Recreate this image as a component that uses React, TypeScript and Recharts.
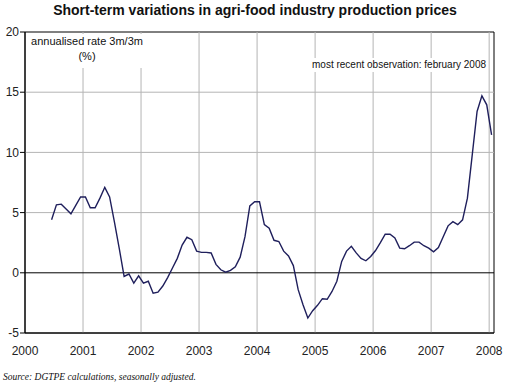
import React from "react";
import {
  LineChart,
  Line,
  XAxis,
  YAxis,
  ReferenceLine,
  ReferenceArea,
} from "recharts";

// monthly observations, first one is July 2000 (months counted from Jan 2000)
const startMonth = 6;
const rate = [
  4.4, 5.65, 5.7, 5.3, 4.9, 5.6, 6.3, 6.3, 5.4, 5.4, 6.2, 7.1, 6.3, 4.2, 2.0,
  -0.3, -0.1, -0.85, -0.25, -0.85, -0.7, -1.7, -1.6, -1.1, -0.4, 0.4, 1.2, 2.3,
  2.95, 2.75, 1.8, 1.7, 1.7, 1.65, 0.7, 0.25, 0.05, 0.2, 0.5, 1.3, 3.0, 5.55,
  5.9, 5.9, 4.0, 3.7, 2.7, 2.6, 1.8, 1.4, 0.6, -1.4, -2.65, -3.76, -3.15, -2.7,
  -2.15, -2.2, -1.55, -0.7, 0.95, 1.8, 2.2, 1.65, 1.2, 1.0, 1.35, 1.85, 2.5,
  3.2, 3.2, 2.9, 2.05, 2.0, 2.25, 2.55, 2.55, 2.25, 2.05, 1.75, 2.1, 3.0, 3.9,
  4.25, 4.0, 4.4, 6.2, 9.8, 13.4, 14.7, 13.95, 11.45,
];
const years = [2000, 2001, 2002, 2003, 2004, 2005, 2006, 2007, 2008];
const yTicks = [-5, 0, 5, 10, 15, 20];

const data = rate.map((v, i) => ({ t: startMonth + i - 0.5, v }));
const xTicks = years.map((y) => (y - 2000) * 12);

const font = "'Liberation Sans', Arial, sans-serif";
const gridColor = "#b4b4b4";

export default function App() {
  return (
    <div
      style={{
        position: "absolute",
        left: 0,
        top: 0,
        width: 510,
        height: 390,
        background: "#fff",
        fontFamily: font,
      }}
    >
      <div
        style={{
          position: "absolute",
          top: 2,
          width: 510,
          textAlign: "center",
          fontSize: 14,
          fontWeight: "bold",
          color: "#111",
        }}
      >
        Short-term variations in agri-food industry production prices
      </div>
      <LineChart
        width={510}
        height={390}
        data={data}
        margin={{ top: 32, right: 16, bottom: 27, left: 0 }}
      >
        <XAxis
          dataKey="t"
          type="number"
          domain={[0, 97]}
          ticks={xTicks}
          tickFormatter={(m) => String(2000 + m / 12)}
          height={30}
          tickLine={false}
          tickSize={0}
          tickMargin={13}
          axisLine={{ stroke: "#000" }}
          tick={{ fill: "#222", fontSize: 12, fontFamily: font }}
        />
        <YAxis
          type="number"
          domain={[-5, 20]}
          ticks={yTicks}
          width={25}
          tickSize={5}
          tickMargin={1}
          tickLine={{ stroke: "#000" }}
          axisLine={{ stroke: "#000" }}
          tick={{ fill: "#222", fontSize: 12, fontFamily: font }}
        />
        {xTicks.slice(1).map((m) => (
          <ReferenceLine key={"x" + m} x={m} stroke={gridColor} />
        ))}
        {yTicks.slice(2, 5).map((y) => (
          <ReferenceLine key={"y" + y} y={y} stroke={gridColor} />
        ))}
        <ReferenceArea
          x1={0}
          x2={97}
          y1={-5}
          y2={20}
          fill="none"
          fillOpacity={0}
          stroke="#000"
          strokeWidth={1}
        />
        <ReferenceLine y={0} stroke="#000" />
        <Line
          dataKey="v"
          stroke="#1f1f5c"
          strokeWidth={1.4}
          dot={false}
          isAnimationActive={false}
        />
      </LineChart>
      <div
        style={{
          position: "absolute",
          left: 27,
          top: 34,
          width: 120,
          height: 34,
          background: "#fff",
          fontSize: 11,
          color: "#111",
          textAlign: "center",
          lineHeight: "15px",
        }}
      >
        annualised rate 3m/3m
        <br />
        (%)
      </div>
      <div
        style={{
          position: "absolute",
          right: 22,
          top: 58,
          padding: "0 2px",
          background: "#fff",
          fontSize: 10,
          color: "#111",
          lineHeight: "14px",
        }}
      >
        most recent observation: february 2008
      </div>
      <div
        style={{
          position: "absolute",
          left: 3,
          top: 372,
          fontFamily: "'Liberation Serif', 'Times New Roman', serif",
          fontStyle: "italic",
          fontSize: 9.5,
          color: "#111",
        }}
      >
        Source: DGTPE calculations, seasonally adjusted.
      </div>
    </div>
  );
}
